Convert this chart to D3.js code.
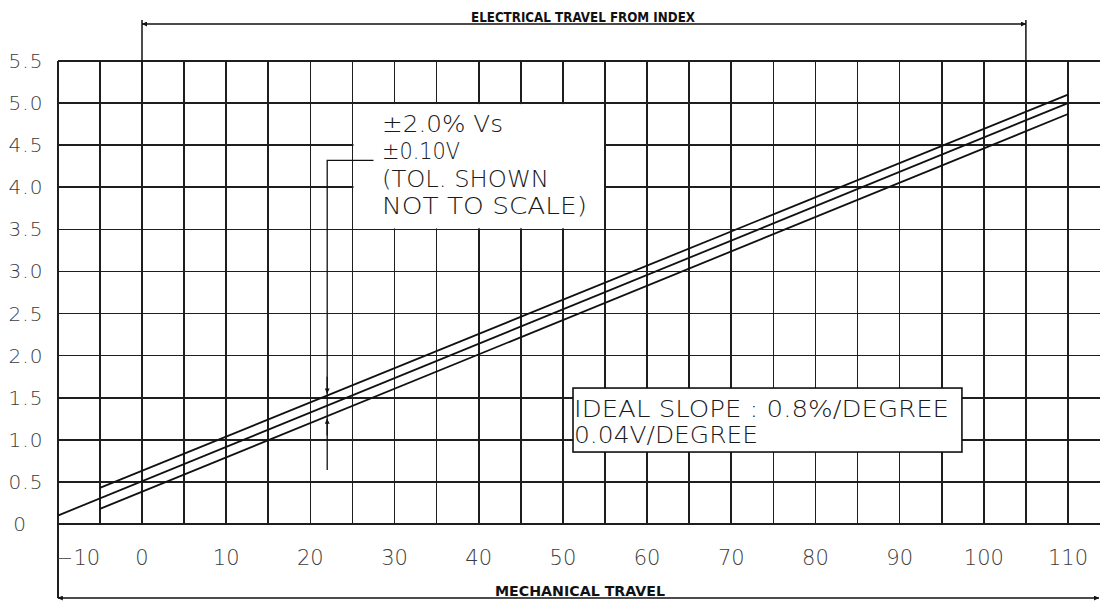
<!DOCTYPE html>
<html lang="en">
<head>
    <meta charset="utf-8">
    <title>Mechanical vs electrical travel</title>
    <script src="https://cdn.jsdelivr.net/npm/d3@7"></script>
    <style>
        body { margin: 0; background: #fff; }
        .grid line { stroke: #1e1e1e; stroke-width: 1.7; shape-rendering: crispEdges; }
        .tick-label { font-family: "DejaVu Sans", sans-serif; font-weight: 300; fill: #3c3c3c; }
        .cad { font-family: "DejaVu Sans", sans-serif; font-weight: 200; fill: #1a1a1a; }
        .dim { font-family: "DejaVu Sans", sans-serif; font-weight: 600; fill: #111; }
    </style>
</head>
<body>
<script>
    // ----- data -----
    var xTicks = [-10, 0, 10, 20, 30, 40, 50, 60, 70, 80, 90, 100, 110];
    var xTickLabels = ["\u221210", "0", "10", "20", "30", "40", "50", "60", "70", "80", "90", "100", "110"];
    var yTicks = [0, 0.5, 1.0, 1.5, 2.0, 2.5, 3.0, 3.5, 4.0, 4.5, 5.0, 5.5];
    var yTickLabels = ["0", "0.5", "1.0", "1.5", "2.0", "2.5", "3.0", "3.5", "4.0", "4.5", "5.0", "5.5"];
    var gridX = d3.range(-10, 111, 5);
    var gridY = d3.range(0, 5.51, 0.5);

    var idealLine = [{x: -10, y: 0.1}, {x: 110, y: 5.0}];
    var upperLine = [{x: -5, y: 0.43}, {x: 110, y: 5.10}];
    var lowerLine = [{x: -5, y: 0.18}, {x: 110, y: 4.87}];

    var electricalTravel = [0, 105];
    var tolBoxLines = ["\u00b12.0% Vs", "\u00b10.10V", "(TOL. SHOWN", "NOT TO SCALE)"];
    var tolBoxWidths = [121, 78, 167, 205];
    var slopeLines = ["IDEAL SLOPE : 0.8%/DEGREE", "0.04V/DEGREE"];
    var slopeWidths = [375, 184];

    // ----- layout -----
    var w = 1100, h = 601;
    var x = d3.scaleLinear().domain([0, 110]).range([142, 1068]);
    var y = d3.scaleLinear().domain([0, 5.5]).range([524, 61]);

    var svg = d3.select("body").append("svg")
        .attr("width", w)
        .attr("height", h);

    // grid
    var grid = svg.append("g").attr("class", "grid");
    grid.selectAll("line.v")
        .data(gridX)
        .enter()
        .append("line")
        .attr("class", "v")
        .attr("x1", function(d) { return x(d); })
        .attr("x2", function(d) { return x(d); })
        .attr("y1", y(5.5))
        .attr("y2", function(d) { return d === -10 ? 598 : y(0); });
    grid.selectAll("line.h")
        .data(gridY)
        .enter()
        .append("line")
        .attr("class", "h")
        .attr("x1", x(-10))
        .attr("x2", x(115))
        .attr("y1", function(d) { return y(d); })
        .attr("y2", function(d) { return y(d); });

    // white box behind the tolerance note
    svg.append("rect")
        .attr("x", x(25) + 1)
        .attr("y", y(5.0) + 1)
        .attr("width", x(55) - x(25) - 2)
        .attr("height", y(3.5) - y(5.0) - 2)
        .attr("fill", "#fff");

    // travel lines
    var line = d3.line()
        .x(function(d) { return x(d.x); })
        .y(function(d) { return y(d.y); });
    [idealLine, upperLine, lowerLine].forEach(function(data) {
        svg.append("path")
            .attr("d", line(data))
            .attr("fill", "none")
            .attr("stroke", "#111")
            .attr("stroke-width", 1.8);
    });

    // arrowhead markers
    var defs = svg.append("defs");
    defs.append("marker")
        .attr("id", "arr")
        .attr("viewBox", "0 0 10 10")
        .attr("refX", 10).attr("refY", 5)
        .attr("markerWidth", 9).attr("markerHeight", 5)
        .attr("markerUnits", "userSpaceOnUse")
        .attr("orient", "auto-start-reverse")
        .append("path")
        .attr("d", "M0,0L10,5L0,10Z")
        .attr("fill", "#111");

    // tolerance leader + arrows
    var tolX = x(22);
    svg.append("path")
        .attr("d", "M" + x(27.5) + "," + y(4.32) + "H" + tolX + "V" + y(0.64))
        .attr("fill", "none")
        .attr("stroke", "#111")
        .attr("stroke-width", 1.3);
    svg.append("line")
        .attr("x1", tolX).attr("x2", tolX)
        .attr("y1", y(1.75)).attr("y2", y(1.55))
        .attr("stroke", "#111").attr("stroke-width", 1.3)
        .attr("marker-end", "url(#arr)");
    svg.append("line")
        .attr("x1", tolX).attr("x2", tolX)
        .attr("y1", y(1.05)).attr("y2", y(1.25))
        .attr("stroke", "#111").attr("stroke-width", 1.3)
        .attr("marker-end", "url(#arr)");

    // tolerance note text
    svg.selectAll("text.tol")
        .data(tolBoxLines)
        .enter()
        .append("text")
        .attr("class", "cad tol")
        .attr("x", 382)
        .attr("y", function(d, i) { return 132 + i * 27.3; })
        .attr("font-size", 23)
        .attr("textLength", function(d, i) { return tolBoxWidths[i]; })
        .attr("lengthAdjust", "spacingAndGlyphs")
        .text(function(d) { return d; });

    // ideal slope box
    svg.append("rect")
        .attr("x", x(51.2))
        .attr("y", y(1.615))
        .attr("width", x(97.4) - x(51.2))
        .attr("height", y(0.855) - y(1.615))
        .attr("fill", "#fff")
        .attr("stroke", "#111")
        .attr("stroke-width", 1.6);
    svg.selectAll("text.slope")
        .data(slopeLines)
        .enter()
        .append("text")
        .attr("class", "cad slope")
        .attr("x", x(51.2) + 1)
        .attr("y", function(d, i) { return 417 + i * 26; })
        .attr("font-size", 23)
        .attr("textLength", function(d, i) { return slopeWidths[i]; })
        .attr("lengthAdjust", "spacingAndGlyphs")
        .text(function(d) { return d; });

    // y tick labels
    svg.selectAll("text.ylab")
        .data(yTicks)
        .enter()
        .append("text")
        .attr("class", "tick-label ylab")
        .attr("x", function(d) { return d === 0 ? 20 : 26; })
        .attr("y", function(d) { return y(d) + 7; })
        .attr("text-anchor", "middle")
        .attr("font-size", 20)
        .attr("letter-spacing", 1)
        .text(function(d, i) { return yTickLabels[i]; });

    // x tick labels
    svg.selectAll("text.xlab")
        .data(xTicks)
        .enter()
        .append("text")
        .attr("class", "tick-label xlab")
        .attr("x", function(d) { return d === -10 ? x(d) - 2 : x(d); })
        .attr("y", 565)
        .attr("text-anchor", function(d) { return d === -10 ? "start" : "middle"; })
        .attr("font-size", 21)
        .text(function(d, i) { return xTickLabels[i]; });

    // electrical travel dimension (top)
    svg.append("line")
        .attr("x1", x(electricalTravel[0])).attr("x2", x(electricalTravel[0]))
        .attr("y1", 20).attr("y2", y(5.5))
        .attr("stroke", "#111").attr("stroke-width", 1.5);
    svg.append("line")
        .attr("x1", x(electricalTravel[1])).attr("x2", x(electricalTravel[1]))
        .attr("y1", 20).attr("y2", y(5.5))
        .attr("stroke", "#111").attr("stroke-width", 1.5);
    svg.append("line")
        .attr("x1", x(electricalTravel[0])).attr("x2", x(electricalTravel[1]))
        .attr("y1", 24).attr("y2", 24)
        .attr("stroke", "#111").attr("stroke-width", 1.3)
        .attr("marker-start", "url(#arr)")
        .attr("marker-end", "url(#arr)");
    svg.append("text")
        .attr("class", "dim")
        .attr("x", 471)
        .attr("y", 22)
        .attr("font-size", 14)
        .attr("textLength", 224)
        .attr("lengthAdjust", "spacingAndGlyphs")
        .text("ELECTRICAL TRAVEL FROM INDEX");

    // mechanical travel dimension (bottom)
    svg.append("line")
        .attr("x1", x(-10)).attr("x2", 1099)
        .attr("y1", 598).attr("y2", 598)
        .attr("stroke", "#111").attr("stroke-width", 1.3)
        .attr("marker-start", "url(#arr)")
        .attr("marker-end", "url(#arr)");
    svg.append("text")
        .attr("class", "dim")
        .attr("x", 495)
        .attr("y", 596)
        .attr("font-size", 14)
        .attr("textLength", 170)
        .attr("lengthAdjust", "spacingAndGlyphs")
        .text("MECHANICAL TRAVEL");
</script>
</body>
</html>
